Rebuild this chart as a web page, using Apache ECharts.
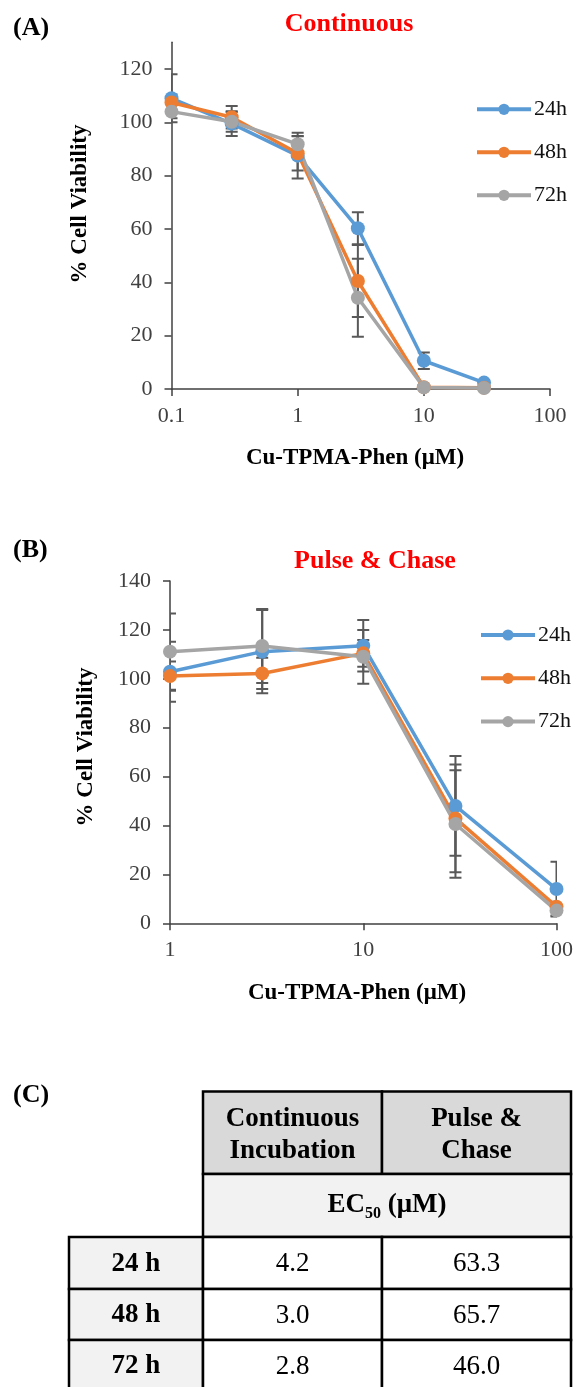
<!DOCTYPE html>
<html>
<head>
<meta charset="utf-8">
<script src="https://cdn.jsdelivr.net/npm/echarts@6/dist/echarts.min.js"></script>
<style>
html,body{margin:0;padding:0;background:#fff;}
#c{width:576px;height:1387px;}
</style>
</head>
<body>
<div id="c"></div>
<script>
// ---------- data ----------
const seriesNames = ['24h', '48h', '72h'];
// Panel A: Continuous
const concA = [0.1, 0.3, 1, 3, 10, 30];
const a24 = [109, 99.5, 87.5, 60.3, 10.6, 2.4];
const a48 = [107.4, 101.9, 88.4, 40.5, 0.7, 0.5];
const a72 = [104, 100.2, 91.8, 34.2, 0.6, 0.4];
const a24err = [9, 4.6, 8.6, 6, 3.1, 1];
const a48err = [3, 4.2, 6.5, 13.5, 0.5, 0.3];
const a72err = [2.5, 3.7, 3, 14.6, 0.4, 0.3];
// Panel B: Pulse & Chase
const concB = [1, 3, 10, 30, 100];
const b24 = [102.9, 111.1, 113.5, 48, 14];
const b48 = [101.1, 102.2, 110.4, 42.9, 6.8];
const b72 = [111.1, 113.4, 109, 40.6, 5.2];
const b24err = [12.3, 17, 10.5, 20.4, 11.2];
const b48err = [6, 6.4, 5.5, 22, 2];
const b72err = [15.6, 15.1, 11, 22, 2];
const yTicksA = [0, 20, 40, 60, 80, 100, 120];
const yTicksB = [0, 20, 40, 60, 80, 100, 120, 140];
// Panel C: table
const tableHeaders = ['Continuous\nIncubation', 'Pulse &\nChase'];
const tableRows = ['24 h', '48 h', '72 h'];
const ec50Cont = [4.2, 3.0, 2.8];
const ec50Pulse = [63.3, 65.7, 46.0];

// ---------- styles ----------
const colors = ['#5B9BD5', '#ED7D31', '#A5A5A5'];
const FONT = 'Liberation Serif';
const axisColor = '#404040';
const errColor = '#595959';

function pairs(xs, ys) { return xs.map((x, i) => [x, ys[i]]); }
function errPairs(xs, ys, es) { return xs.map((x, i) => [x, ys[i] - es[i], ys[i] + es[i]]); }

function errRender(params, api) {
  const x = api.value(0), lo = api.value(1), hi = api.value(2);
  const p1 = api.coord([x, hi]);
  const p2 = api.coord([x, lo]);
  const w = 6;
  const st = { stroke: errColor, lineWidth: 2 };
  return {
    type: 'group',
    children: [
      { type: 'line', shape: { x1: p1[0], y1: p1[1], x2: p2[0], y2: p2[1] }, style: st },
      { type: 'line', shape: { x1: p1[0] - w, y1: p1[1], x2: p1[0] + w, y2: p1[1] }, style: st },
      { type: 'line', shape: { x1: p2[0] - w, y1: p2[1], x2: p2[0] + w, y2: p2[1] }, style: st }
    ]
  };
}

const lineSeries = (name, idx, data, gi) => ({
  name: name, type: 'line', xAxisIndex: gi, yAxisIndex: gi,
  data: data, symbol: 'circle', symbolSize: 14, z: 5,
  itemStyle: { color: colors[idx] },
  lineStyle: { color: colors[idx], width: 3.5 },
  emphasis: { disabled: true }, animation: false
});
const errSeries = (name, data, gi) => ({
  name: name + ' error', type: 'custom', xAxisIndex: gi, yAxisIndex: gi,
  data: data, renderItem: errRender, clip: true, z: 3,
  encode: { x: 0, y: [1, 2] }, animation: false, silent: true
});

const logFmt = v => String(+(+v).toPrecision(3));

function xAxisCfg(gi, min, max) {
  return {
    type: 'log', logBase: 10, gridIndex: gi, min: min, max: max,
    axisLine: { lineStyle: { color: axisColor, width: 1.5 } },
    axisTick: { show: true, length: 7, lineStyle: { color: axisColor, width: 1.5 } },
    minorTick: { show: false },
    splitLine: { show: false },
    axisLabel: { fontFamily: FONT, fontSize: 22, color: axisColor, margin: 16, formatter: logFmt }
  };
}
function yAxisCfg(gi, max, ticks) {
  return {
    type: 'value', gridIndex: gi, min: 0, max: max, interval: 20,
    axisLine: { show: true, lineStyle: { color: axisColor, width: 1.5 } },
    axisTick: { show: true, length: 7, lineStyle: { color: axisColor, width: 1.5 }, customValues: ticks },
    splitLine: { show: false },
    axisLabel: { fontFamily: FONT, fontSize: 22, color: axisColor, margin: 19, customValues: ticks }
  };
}

// ---------- table graphics ----------
const colX = [69, 203, 382, 571];
const rowY = [1091.5, 1174, 1237, 1289, 1340, 1391];
const tableGraphics = [];
const border = { stroke: '#000', lineWidth: 2.5 };
function cell(x0, x1, y0, y1, fill) {
  tableGraphics.push({ type: 'rect', shape: { x: x0, y: y0, width: x1 - x0, height: y1 - y0 },
    style: Object.assign({ fill: fill }, border) });
}
function ctext(txt, cx, cy, bold, rich) {
  const t = { type: 'text', x: cx, y: cy, z: 10,
    style: { text: txt, align: 'center', verticalAlign: 'middle', fontFamily: FONT,
      fontSize: 27, fontWeight: bold ? 'bold' : 'normal', fill: '#000', lineHeight: 32 } };
  if (rich) t.style.rich = rich;
  tableGraphics.push(t);
}
tableHeaders.forEach((h, i) => {
  cell(colX[i + 1], colX[i + 2], rowY[0], rowY[1], '#D9D9D9');
  ctext(h, (colX[i + 1] + colX[i + 2]) / 2, (rowY[0] + rowY[1]) / 2 + 2, true);
});
cell(colX[1], colX[3], rowY[1], rowY[2], '#F2F2F2');
ctext('EC{sub|50} (μM)', (colX[1] + colX[3]) / 2, (rowY[1] + rowY[2]) / 2, true,
  { sub: { fontFamily: FONT, fontSize: 16, fontWeight: 'bold', verticalAlign: 'bottom', padding: [12, 0, 0, 0] } });
tableRows.forEach((r, i) => {
  const y0 = rowY[i + 2], y1 = rowY[i + 3];
  cell(colX[0], colX[1], y0, y1, '#F2F2F2');
  cell(colX[1], colX[2], y0, y1, '#FFFFFF');
  cell(colX[2], colX[3], y0, y1, '#FFFFFF');
  const cy = (y0 + y1) / 2 + 1;
  ctext(r, (colX[0] + colX[1]) / 2, cy, true);
  ctext(ec50Cont[i].toFixed(1), (colX[1] + colX[2]) / 2, cy, false);
  ctext(ec50Pulse[i].toFixed(1), (colX[2] + colX[3]) / 2, cy, false);
});

function label(txt, x, y, color, align, size, rot) {
  return { type: 'text', x: x, y: y, z: 10, rotation: rot || 0,
    style: { text: txt, align: align || 'left', verticalAlign: 'middle', fontFamily: FONT,
      fontSize: size || 26, fontWeight: 'bold', fill: color } };
}

const legendCfg = (left, top, gap) => ({
  data: seriesNames, orient: 'vertical', left: left, top: top, itemWidth: 54, itemHeight: 14,
  itemGap: gap, selectedMode: false,
  lineStyle: { width: 4 },
  textStyle: { fontFamily: FONT, fontSize: 22, color: '#111', lineHeight: 22, padding: [0, 0, 0, -2] }
});

const chart = echarts.init(document.getElementById('c'), null, { renderer: 'canvas' });
chart.setOption({
  backgroundColor: '#fff',
  animation: false,
  grid: [
    { left: 171.5, top: 42.3, width: 378.5, height: 346.7 },
    { left: 170, top: 581, width: 387.7, height: 342.3 }
  ],
  legend: [legendCfg(470, 93.3, 21), legendCfg(474, 619, 21.3)],
  xAxis: [xAxisCfg(0, 0.1, 100), xAxisCfg(1, 1, 100)],
  yAxis: [yAxisCfg(0, 130, yTicksA), yAxisCfg(1, 140, yTicksB)],
  series: [
    lineSeries('24h', 0, pairs(concA, a24), 0),
    lineSeries('48h', 1, pairs(concA, a48), 0),
    lineSeries('72h', 2, pairs(concA, a72), 0),
    lineSeries('24h', 0, pairs(concB, b24), 1),
    lineSeries('48h', 1, pairs(concB, b48), 1),
    lineSeries('72h', 2, pairs(concB, b72), 1),
    errSeries('24h', errPairs(concA, a24, a24err), 0),
    errSeries('48h', errPairs(concA, a48, a48err), 0),
    errSeries('72h', errPairs(concA, a72, a72err), 0),
    errSeries('24h', errPairs(concB, b24, b24err), 1),
    errSeries('48h', errPairs(concB, b48, b48err), 1),
    errSeries('72h', errPairs(concB, b72, b72err), 1)
  ],
  graphic: [
    label('(A)', 13, 28, '#000'),
    label('Continuous', 349, 24, '#FF0000', 'center'),
    label('% Cell Viability', 80, 204, '#000', 'center', 23, Math.PI / 2),
    label('Cu-TPMA-Phen (μM)', 355, 458, '#000', 'center', 23),
    label('(B)', 13, 550, '#000'),
    label('Pulse & Chase', 375, 561, '#FF0000', 'center'),
    label('% Cell Viability', 86, 747, '#000', 'center', 23, Math.PI / 2),
    label('Cu-TPMA-Phen (μM)', 357, 993, '#000', 'center', 23),
    label('(C)', 13, 1095, '#000')
  ].concat(tableGraphics)
});
</script>
</body>
</html>
